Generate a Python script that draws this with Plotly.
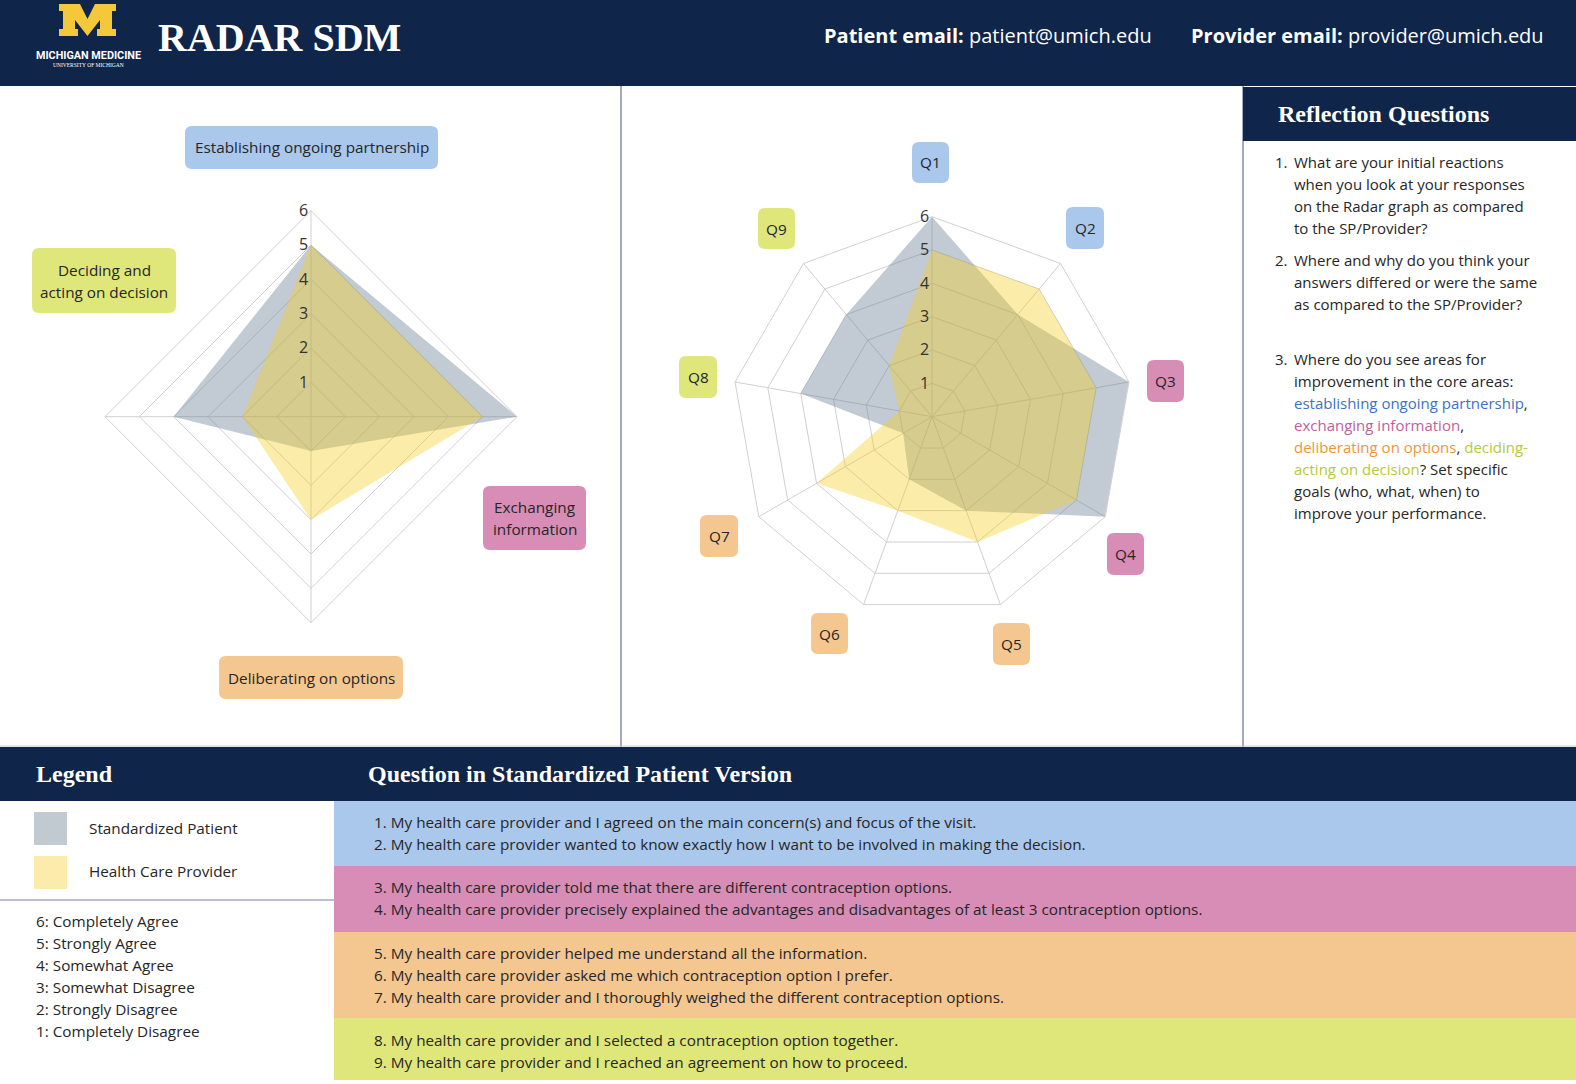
import plotly.graph_objects as go

# ---------------- data ----------------
core_areas = ["Establishing ongoing partnership", "Exchanging information",
              "Deliberating on options", "Deciding and acting on decision"]
sp_core = [5, 6, 1, 4]
provider_core = [5, 5, 3, 2]

questions = ["Q1", "Q2", "Q3", "Q4", "Q5", "Q6", "Q7", "Q8", "Q9"]
sp_q = [6, 4, 6, 6, 3, 2, 1, 4, 4]
provider_q = [5, 5, 5, 5, 4, 3, 4, 1, 2]

radial_ticks = [1, 2, 3, 4, 5, 6]
radial_ticktext = ["1", "2", "3", "4", "5", "6"]

series_names = ["Standardized Patient", "Health Care Provider"]
scale_labels = ["6: Completely Agree", "5: Strongly Agree", "4: Somewhat Agree",
                "3: Somewhat Disagree", "2: Strongly Disagree", "1: Completely Disagree"]

question_texts = [
    "1. My health care provider and I agreed on the main concern(s) and focus of the visit.",
    "2. My health care provider wanted to know exactly how I want to be involved in making the decision.",
    "3. My health care provider told me that there are different contraception options.",
    "4. My health care provider precisely explained the advantages and disadvantages of at least 3 contraception options.",
    "5. My health care provider helped me understand all the information.",
    "6. My health care provider asked me which contraception option I prefer.",
    "7. My health care provider and I thoroughly weighed the different contraception options.",
    "8. My health care provider and I selected a contraception option together.",
    "9. My health care provider and I reached an agreement on how to proceed.",
]

# ---------------- style ----------------
W, H = 1576, 1084
NAVY = "#0f2549"
DIV = "#a3abc2"
TXT = "#262626"
BLUE, PINK, ORANGE, LIME = "#a9c8ec", "#d78db6", "#f4c690", "#dfe77b"
BLUE_T, PINK_T, ORANGE_T, LIME_T = "#3a72c8", "#c0609c", "#f0953a", "#b5c93a"
SP_FILL = "rgba(110,130,150,0.42)"
PR_FILL = "rgba(244,204,30,0.38)"
GRID = "#d0d0d0"
SANS = "Open Sans"
SERIF = "Liberation Serif"
BODY = 15.3

core_colors = [BLUE, PINK, ORANGE, LIME]
q_colors = [BLUE, BLUE, PINK, PINK, ORANGE, ORANGE, ORANGE, LIME, LIME]


def X(px):
    return px / W


def Y(py):
    return 1 - py / H


shapes = []
annotations = []


def rect(x0, y0, x1, y1, color, layer="below"):
    shapes.append(dict(type="rect", xref="paper", yref="paper", x0=X(x0), x1=X(x1),
                       y0=Y(y1), y1=Y(y0), fillcolor=color, line=dict(width=0), layer=layer))


def line(x0, y0, x1, y1, color, width=1):
    shapes.append(dict(type="line", xref="paper", yref="paper", x0=X(x0), x1=X(x1),
                       y0=Y(y0), y1=Y(y1), line=dict(color=color, width=width), layer="below"))


def rrect(x0, y0, x1, y1, color, r=7):
    p = (f"M {X(x0+r)},{Y(y0)} L {X(x1-r)},{Y(y0)} Q {X(x1)},{Y(y0)} {X(x1)},{Y(y0+r)} "
         f"L {X(x1)},{Y(y1-r)} Q {X(x1)},{Y(y1)} {X(x1-r)},{Y(y1)} "
         f"L {X(x0+r)},{Y(y1)} Q {X(x0)},{Y(y1)} {X(x0)},{Y(y1-r)} "
         f"L {X(x0)},{Y(y0+r)} Q {X(x0)},{Y(y0)} {X(x0+r)},{Y(y0)} Z")
    shapes.append(dict(type="path", xref="paper", yref="paper", path=p,
                       fillcolor=color, line=dict(width=0), layer="below"))


def text(x, y, s, size=BODY, color=TXT, family=SANS, xanchor="left"):
    annotations.append(dict(x=X(x), y=Y(y), xref="paper", yref="paper", text=s,
                            showarrow=False, xanchor=xanchor, yanchor="middle",
                            font=dict(size=size, color=color, family=family)))


# ---------------- header ----------------
rect(0, 0, W, 86, NAVY)
m_pts = [(59, 4), (80, 4), (87.5, 19), (95, 4), (116, 4), (116, 11), (112, 11), (112, 29),
         (116, 29), (116, 36), (97, 36), (97, 29), (100, 29), (100, 20), (87.5, 36), (75, 20),
         (75, 29), (78, 29), (78, 36), (59, 36), (59, 29), (63, 29), (63, 11), (59, 11)]
mpath = "M " + " L ".join(f"{X(a)},{Y(b)}" for a, b in m_pts) + " Z"
shapes.append(dict(type="path", xref="paper", yref="paper", path=mpath,
                   fillcolor="#f5c83c", line=dict(width=0), layer="below"))
text(88, 55, "<b>MICHIGAN MEDICINE</b>", size=10.8, color="white", family="Roboto", xanchor="center")
text(88, 65, "UNIVERSITY OF MICHIGAN", size=5.5, color="white", family=SERIF, xanchor="center")
text(156, 38, "<b>RADAR SDM</b>", size=40, color="white", family=SERIF)
text(822, 36, "<b>Patient email:</b> patient@umich.edu", size=20, color="white")
text(1189, 36, "<b>Provider email:</b> provider@umich.edu", size=20, color="white")

# ---------------- panel dividers ----------------
line(621, 86, 621, 747, DIV, 2)
line(1243, 86, 1243, 747, DIV, 2)
rect(1243, 87, W, 141, NAVY)
text(1276, 114, "<b>Reflection Questions</b>", size=24, color="white", family=SERIF)

# ---------------- reflection questions ----------------
refl = [
    ("1.", ["What are your initial reactions", "when you look at your responses",
            "on the Radar graph as compared", "to the SP/Provider?"], 162),
    ("2.", ["Where and why do you think your", "answers differed or were the same",
            "as compared to the SP/Provider?"], 260),
    ("3.", ["Where do you see areas for", "improvement in the core areas:",
            f"<span style='color:{BLUE_T}'>establishing ongoing partnership</span>,",
            f"<span style='color:{PINK_T}'>exchanging information</span>,",
            f"<span style='color:{ORANGE_T}'>deliberating on options</span>, "
            f"<span style='color:{LIME_T}'>deciding-</span>",
            f"<span style='color:{LIME_T}'>acting on decision</span>? Set specific",
            "goals (who, what, when) to", "improve your performance."], 359),
]
for num, lines_, y0 in refl:
    text(1273, y0, num, size=15)
    for i, s in enumerate(lines_):
        text(1292, y0 + 22 * i, s, size=15)

# ---------------- bottom section ----------------
line(0, 746, W, 746, "#c8c8c8", 1)
rect(0, 747, W, 801, NAVY)
text(34, 774, "<b>Legend</b>", size=24, color="white", family=SERIF)
text(366, 774, "<b>Question in Standardized Patient Version</b>", size=24, color="white", family=SERIF)

rect(34, 812, 67, 845, "#c1c9d1")
rect(34, 856, 67, 889, "#fcecab")
text(87, 828, series_names[0])
text(87, 871, series_names[1])
line(0, 900, 334, 900, DIV, 1.5)
for i, s in enumerate(scale_labels):
    text(34, 921 + 22 * i, s)

bands = [(801, 866, BLUE, [0, 1], 822), (866, 932, PINK, [2, 3], 887),
         (932, 1018, ORANGE, [4, 5, 6], 953), (1018, 1080, LIME, [7, 8], 1040)]
for y0, y1, c, idx, ty in bands:
    rect(334, y0, W, y1, c)
    for k, qi in enumerate(idx):
        text(372, ty + 22 * k, question_texts[qi])

# ---------------- radar label boxes ----------------
core_boxes = [(185, 126, 438, 169), (483, 486, 586, 550), (219, 656, 403, 699), (32, 248, 176, 313)]
core_lines = [[core_areas[0]], ["Exchanging", "information"], [core_areas[2]],
              ["Deciding and", "acting on decision"]]
for (x0, y0, x1, y1), c, ls in zip(core_boxes, core_colors, core_lines):
    rrect(x0, y0, x1, y1, c)
    cy = (y0 + y1) / 2
    n = len(ls)
    for i, s in enumerate(ls):
        text((x0 + x1) / 2, cy + (i - (n - 1) / 2) * 22, s, xanchor="center")

q_boxes = [(912, 142, 949, 183), (1066, 207, 1104, 249), (1147, 360, 1184, 402),
           (1107, 533, 1144, 575), (993, 623, 1030, 665), (811, 613, 848, 654),
           (700, 515, 738, 557), (679, 356, 717, 398), (758, 208, 795, 249)]
for (x0, y0, x1, y1), c, q in zip(q_boxes, q_colors, questions):
    rrect(x0, y0, x1, y1, c)
    text((x0 + x1) / 2, (y0 + y1) / 2, q, xanchor="center")

# ---------------- radar traces ----------------
fig = go.Figure()
fig.add_trace(go.Scatterpolar(r=sp_core + sp_core[:1], theta=core_areas + core_areas[:1],
                              fill="toself", fillcolor=SP_FILL, line=dict(width=0),
                              mode="lines", name=series_names[0], subplot="polar"))
fig.add_trace(go.Scatterpolar(r=provider_core + provider_core[:1], theta=core_areas + core_areas[:1],
                              fill="toself", fillcolor=PR_FILL, line=dict(width=0),
                              mode="lines", name=series_names[1], subplot="polar"))
fig.add_trace(go.Scatterpolar(r=sp_q + sp_q[:1], theta=questions + questions[:1],
                              fill="toself", fillcolor=SP_FILL, line=dict(width=0),
                              mode="lines", name=series_names[0], subplot="polar2"))
fig.add_trace(go.Scatterpolar(r=provider_q + provider_q[:1], theta=questions + questions[:1],
                              fill="toself", fillcolor=PR_FILL, line=dict(width=0),
                              mode="lines", name=series_names[1], subplot="polar2"))


def polar_cfg(cx, cy, R):
    return dict(
        domain=dict(x=[X(cx - R), X(cx + R)], y=[Y(cy + R), Y(cy - R)]),
        bgcolor="rgba(0,0,0,0)",
        gridshape="linear",
        angularaxis=dict(rotation=90, direction="clockwise", showticklabels=False, ticks="",
                         gridcolor=GRID, linecolor=GRID, showline=True, gridwidth=1),
        radialaxis=dict(range=[0, 6], tickvals=radial_ticks, ticktext=radial_ticktext,
                        angle=90, tickangle=90, showline=False, ticks="", gridcolor=GRID,
                        gridwidth=1, side="counterclockwise",
                        tickfont=dict(size=16, color="#333333", family=SANS)),
    )


fig.update_layout(
    width=W, height=H, margin=dict(l=0, r=0, t=0, b=0),
    paper_bgcolor="white", plot_bgcolor="white", showlegend=False,
    polar=polar_cfg(311, 416.7, 206),
    polar2=polar_cfg(932, 416.7, 200),
    shapes=shapes, annotations=annotations,
    font=dict(family=SANS, color=TXT),
)

fig.write_html("out.html", config={"displayModeBar": False},
               post_script="document.body.style.margin='0';document.body.style.overflow='hidden';")
